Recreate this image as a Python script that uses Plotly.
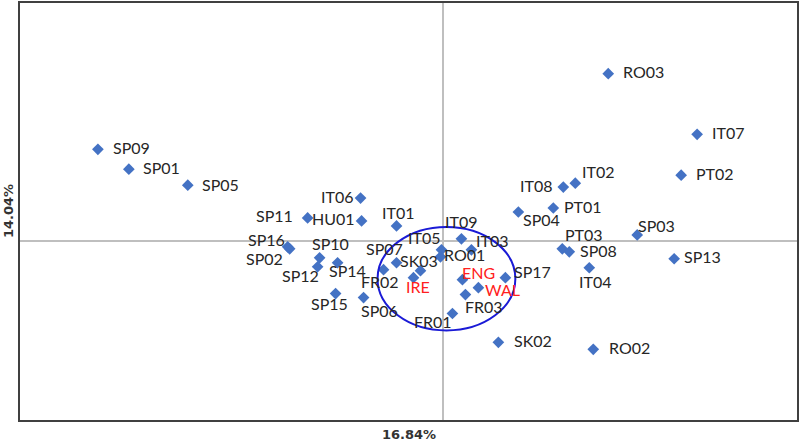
import plotly.graph_objects as go

# ---- data (component scores) ----
labels = ["SP09", "SP01", "SP05", "IT06", "SP11", "HU01", "IT01", "SP16", "SP02",
          "SP10", "SP12", "SP14", "SP07", "FR02", "SK03", "IRE", "SP15", "SP06",
          "RO03", "IT07", "PT02", "IT02", "IT08", "PT01", "SP04", "SP03", "IT09",
          "IT03", "IT05", "RO01", "PT03", "SP08", "IT04", "SP13", "SP17", "ENG",
          "WAL", "FR03", "FR01", "SK02", "RO02"]
x_vals = [-3.46, -3.15, -2.56, -0.83, -1.36, -0.82, -0.47, -1.54, -1.56,
          -1.24, -1.26, -1.06, -0.47, -0.60, -0.23, -0.30, -1.08, -0.80,
          1.65, 2.54, 2.38, 1.32, 1.20, 1.10, 0.75, 1.94, 0.18,
          0.28, -0.02, -0.03, 1.19, 1.26, 1.46, 2.31, 0.62, 0.19,
          0.35, 0.22, 0.09, 0.55, 1.50]
y_vals = [0.92, 0.72, 0.56, 0.43, 0.23, 0.20, 0.15, -0.08, -0.06,
          -0.17, -0.26, -0.22, -0.22, -0.29, -0.30, -0.37, -0.53, -0.57,
          1.68, 1.07, 0.66, 0.58, 0.54, 0.33, 0.29, 0.06, 0.02,
          -0.09, -0.09, -0.16, -0.08, -0.11, -0.27, -0.18, -0.37, -0.39,
          -0.47, -0.54, -0.73, -1.02, -1.09]
highlight = ["IRE", "ENG", "WAL"]
x_title = "16.84%"
y_title = "14.04%"

# ellipse (data units): centre and radii
ell_cx, ell_cy, ell_rx, ell_ry = 0.03, -0.38, 0.69, 0.52

# label placement: (anchor side, x offset px, y offset px downwards)
label_style = {
    "SP09": ("left", 15, 0), "SP01": ("left", 14, 0), "SP05": ("left", 14, 1),
    "IT06": ("right", -7, 0), "SP11": ("right", -15, 0), "HU01": ("right", -7, 0),
    "IT01": ("center", 2, -11), "SP16": ("right", -5, -7), "SP02": ("right", -5, 14),
    "SP10": ("center", 11, -12), "SP12": ("right", 1, 11), "SP14": ("center", 10, 10),
    "SP07": ("center", -12, -12), "FR02": ("center", -4, 14), "SK03": ("center", -1, -8),
    "IRE": ("center", 5, 11), "SP15": ("center", -6, 12), "SP06": ("center", 16, 15),
    "RO03": ("left", 15, 0), "IT07": ("left", 15, 0), "PT02": ("left", 15, 0),
    "IT02": ("left", 7, -10), "IT08": ("right", -10, 0), "PT01": ("left", 11, 0),
    "SP04": ("left", 5, 9), "SP03": ("left", 1, -7), "IT09": ("center", 0, -15),
    "IT03": ("left", 5, -7), "IT05": ("right", 0, -10), "RO01": ("left", 4, 0),
    "PT03": ("left", 3, -12), "SP08": ("left", 11, 1), "IT04": ("center", 6, 16),
    "SP13": ("left", 10, 0), "SP17": ("left", 9, -4), "ENG": ("left", 0, -5),
    "WAL": ("left", 7, 4), "FR03": ("left", 0, 14), "FR01": ("right", 0, 10),
    "SK02": ("left", 16, 0), "RO02": ("left", 16, 0),
}
baseline_fix = 2  # annotation boxes sit slightly low; lift them a bit

fig = go.Figure()
fig.add_trace(go.Scatter(
    x=x_vals, y=y_vals, text=labels, mode="markers",
    marker=dict(symbol="diamond", size=9, color="#4472C4"),
    cliponaxis=False, hoverinfo="text",
))

for lab, xv, yv in zip(labels, x_vals, y_vals):
    side, dx, dy = label_style[lab]
    fig.add_annotation(
        x=xv, y=yv, xref="x", yref="y", text=lab, showarrow=False,
        xanchor=side, yanchor="middle", xshift=dx, yshift=-dy + baseline_fix,
        borderpad=0, borderwidth=0,
        font=dict(family="Lato, Open Sans, sans-serif", size=16,
                  color="#ff2020" if lab in highlight else "#262626"),
    )

fig.add_shape(type="circle", xref="x", yref="y",
              x0=ell_cx - ell_rx, x1=ell_cx + ell_rx,
              y0=ell_cy - ell_ry, y1=ell_cy + ell_ry,
              line=dict(color="#1a1ad6", width=2))

axis_common = dict(showgrid=False, showticklabels=False, ticks="",
                   zeroline=True, zerolinecolor="#bfbfbf", zerolinewidth=1.5,
                   showline=True, mirror=True, linecolor="#404040", linewidth=1.5)
fig.update_xaxes(range=[-4.24, 3.54], **axis_common)
fig.update_yaxes(range=[-1.80, 2.39], **axis_common)

fig.add_annotation(text="<b>" + x_title + "</b>", xref="paper", yref="paper",
                   x=0.5, y=0, yanchor="top", yshift=-5, showarrow=False,
                   font=dict(family="DejaVu Sans, sans-serif", size=13, color="#333333"))
fig.add_annotation(text="<b>" + y_title + "</b>", xref="paper", yref="paper",
                   x=0, y=0.5, xanchor="right", xshift=-2, textangle=-90, showarrow=False,
                   font=dict(family="DejaVu Sans, sans-serif", size=13, color="#333333"))

fig.update_layout(width=800, height=442, margin=dict(l=20, r=2, t=1, b=22),
                  paper_bgcolor="white", plot_bgcolor="white", showlegend=False)
fig.write_html("out.html", config={"displayModeBar": False},
               post_script="document.body.style.margin='0';")
